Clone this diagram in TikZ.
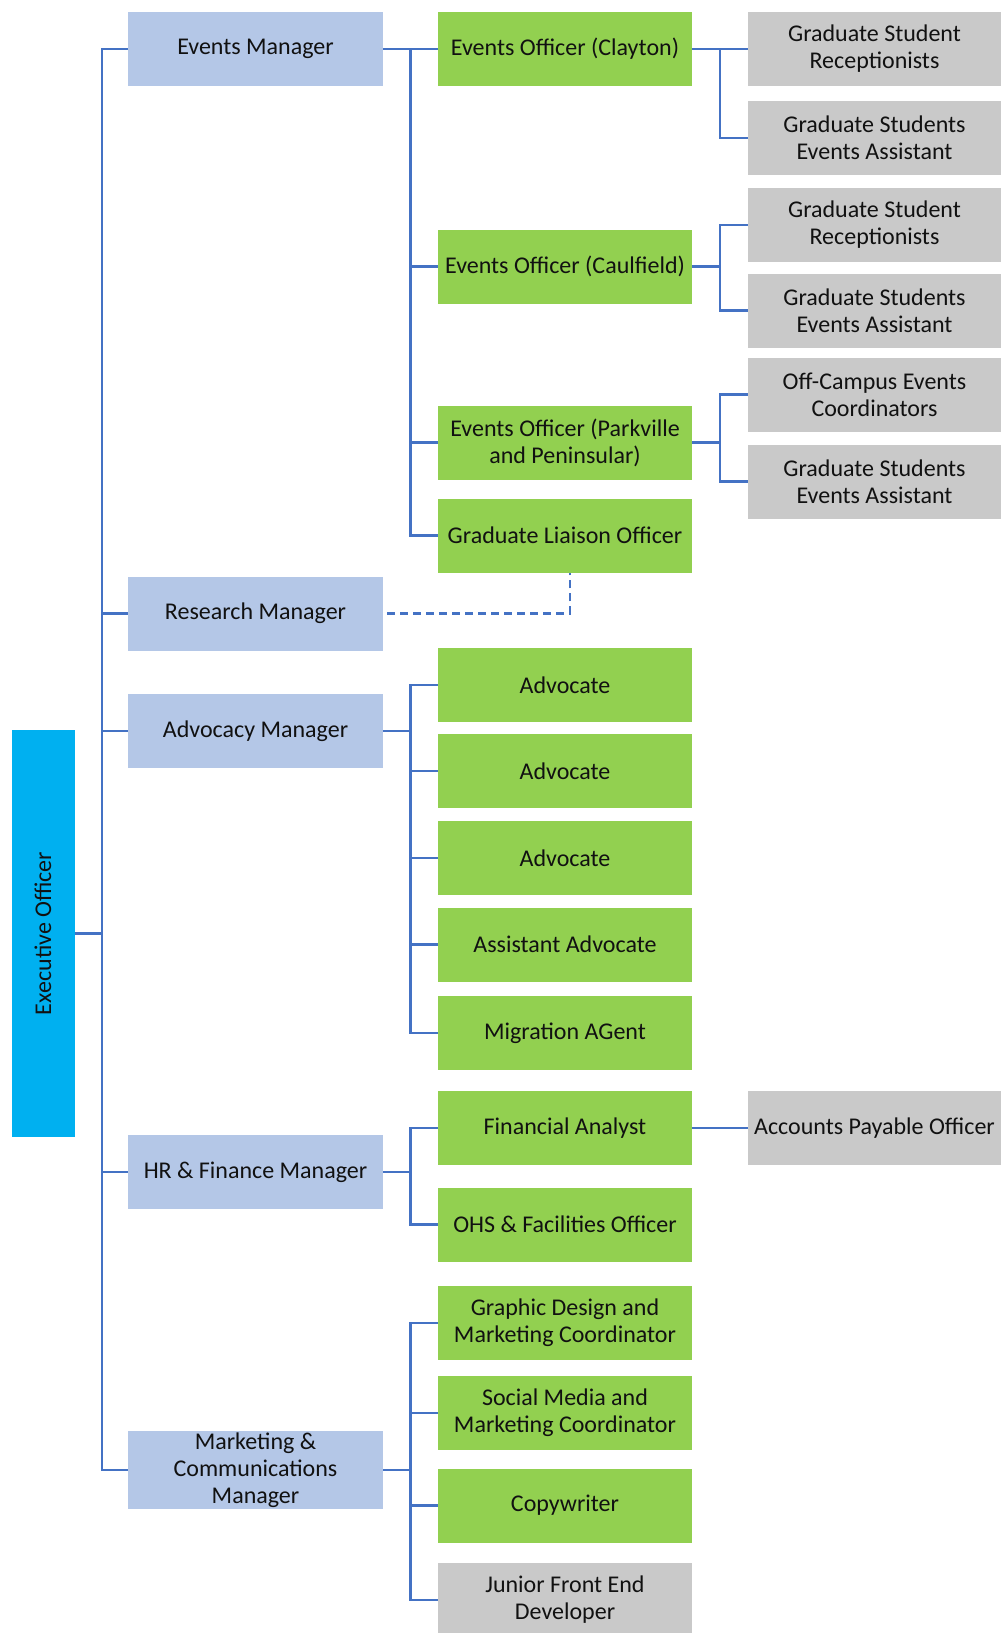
\documentclass[tikz,border=0pt]{standalone}
\usepackage{fontspec}
\setmainfont{Carlito}
\usetikzlibrary{calc}
\definecolor{mgrblue}{HTML}{B4C7E7}
\definecolor{offgreen}{HTML}{92D050}
\definecolor{staffgray}{HTML}{C9C9C9}
\definecolor{execblue}{HTML}{00B0F0}
\definecolor{linkblue}{HTML}{4472C4}
\definecolor{txt}{HTML}{111111}
\tikzset{
  box/.style={draw=none, align=center, inner sep=2pt, text=txt,
    font=\fontsize{24}{27}\selectfont, minimum height=74pt},
  mgr/.style={box, fill=mgrblue, minimum width=255pt},
  off/.style={box, fill=offgreen, minimum width=254pt},
  stf/.style={box, fill=staffgray, minimum width=253pt},
  conn/.style={draw=linkblue, line width=2.5pt},
}
\begin{document}
\begin{tikzpicture}[x=1pt,y=-1pt]
\useasboundingbox (0,0) rectangle (1005,1633);
% executive
\node[box, fill=execblue, minimum width=63pt, minimum height=407pt] (exec) at (43,933.5) {};
\node[rotate=90, text=txt, font=\fontsize{24}{27}\selectfont] (exectext) at (exec.center) {Executive Officer};
% managers
\node[mgr] (em) at (255.5,49) {Events Manager};
\node[mgr] (rm) at (255.5,613.5) {Research Manager};
\node[mgr] (am) at (255.5,731) {Advocacy Manager};
\node[mgr] (hr) at (255.5,1172) {HR \& Finance Manager};
\node[mgr] (mcm) at (255.5,1470) {Marketing \&\\Communications\\Manager};
% officers
\node[off] (eoc) at (565,49) {Events Officer (Clayton)};
\node[off] (eocf) at (565,266.5) {Events Officer (Caulfield)};
\node[off] (eopk) at (565,442.5) {Events Officer (Parkville\\and Peninsular)};
\node[off] (glo) at (565,535.5) {Graduate Liaison Officer};
\node[off] (adv1) at (565,685) {Advocate};
\node[off] (adv2) at (565,771) {Advocate};
\node[off] (adv3) at (565,858) {Advocate};
\node[off] (aa) at (565,944.5) {Assistant Advocate};
\node[off] (mig) at (565,1033) {Migration AGent};
\node[off] (fa) at (565,1128) {Financial Analyst};
\node[off] (ohs) at (565,1224.5) {OHS \& Facilities Officer};
\node[off] (gd) at (565,1323) {Graphic Design and\\Marketing Coordinator};
\node[off] (sm) at (565,1413) {Social Media and\\Marketing Coordinator};
\node[off] (cw) at (565,1505.5) {Copywriter};
\node[box, fill=staffgray, minimum width=254pt] (jfe) at (565,1600) {Junior Front End\\Developer};
% staff
\node[stf] (gsr1) at (874.5,49) {Graduate Student\\Receptionists};
\node[stf] (gsea1) at (874.5,138) {Graduate Students\\Events Assistant};
\node[stf] (gsr2) at (874.5,225) {Graduate Student\\Receptionists};
\node[stf] (gsea2) at (874.5,310.5) {Graduate Students\\Events Assistant};
\node[stf] (ocec) at (874.5,394.5) {Off-Campus Events\\Coordinators};
\node[stf] (gsea3) at (874.5,481.5) {Graduate Students\\Events Assistant};
\node[stf] (apo) at (874.5,1128) {Accounts Payable Officer};
% executive bus
\draw[conn] (em.west) -- ++(-26,0) |- (mcm.west);
\foreach \n in {rm,am,hr} \draw[conn] (\n.west) -- ++(-26,0);
\draw[conn] (exec.east) -- ++(27,0);
% events manager bus
\draw[conn] (em.east) -- ++(27.5,0) |- (glo.west);
\foreach \n in {eoc,eocf,eopk} \draw[conn] (\n.west) -- ++(-27.5,0);
% advocacy bus
\draw[conn] (adv1.west) -- ++(-27.5,0) |- (mig.west);
\foreach \n in {adv2,adv3,aa} \draw[conn] (\n.west) -- ++(-27.5,0);
\draw[conn] (am.east) -- ++(27.5,0);
% hr bus
\draw[conn] (fa.west) -- ++(-27.5,0) |- (ohs.west);
\draw[conn] (hr.east) -- ++(27.5,0);
% marketing bus
\draw[conn] (gd.west) -- ++(-27.5,0) |- (jfe.west);
\foreach \n in {sm,cw} \draw[conn] (\n.west) -- ++(-27.5,0);
\draw[conn] (mcm.east) -- ++(27.5,0);
% staff buses
\draw[conn] (gsr1.west) -- ++(-28,0) |- (gsea1.west);
\draw[conn] (eoc.east) -- ++(27,0);
\draw[conn] (gsr2.west) -- ++(-28,0) |- (gsea2.west);
\draw[conn] (eocf.east) -- ++(27,0);
\draw[conn] (ocec.west) -- ++(-28,0) |- (gsea3.west);
\draw[conn] (eopk.east) -- ++(27,0);
\draw[conn] (fa.east) -- (apo.west);
% dashed link
\draw[conn, dash pattern=on 8pt off 5pt] ([xshift=4pt]rm.east) -| ([xshift=5pt]glo.south);
\end{tikzpicture}
\end{document}
